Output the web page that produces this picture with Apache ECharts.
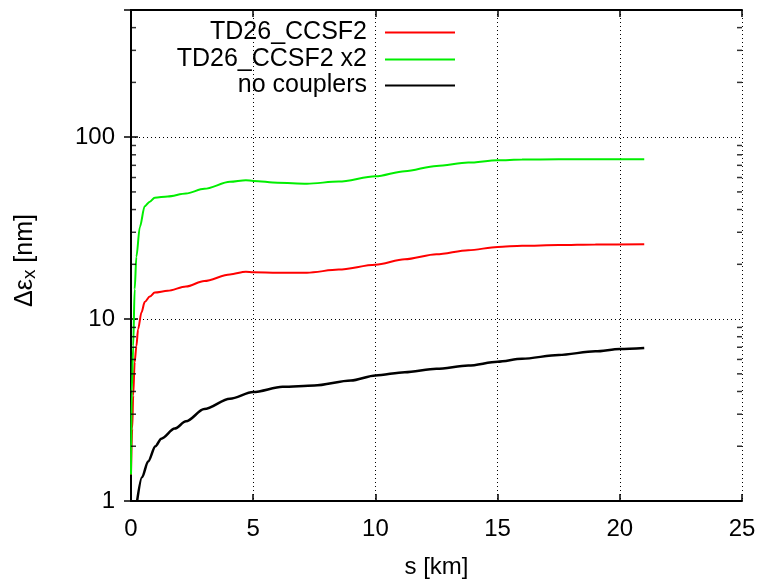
<!DOCTYPE html>
<html>
<head>
<meta charset="utf-8">
<script src="https://cdn.jsdelivr.net/npm/echarts@6/dist/echarts.min.js"></script>
<style>
  html, body { margin: 0; padding: 0; background: #fff; }
  #chart { width: 762px; height: 584px; }
</style>
</head>
<body>
<div id="chart"></div>
<script>
  // s [km] and emittance growth [nm]
  var sRed = [0, 0.05, 0.09, 0.15, 0.22, 0.29, 0.43, 0.56, 0.77, 0.97, 1.5, 2.25, 3, 4.05, 4.7, 5, 6, 7.2, 8.5, 10, 11.2, 12.5, 13.8, 15, 16, 17.5, 19, 21];
  var vRed = [1.4, 2.5, 3.8, 5.8, 7.1, 8.8, 10.9, 12.4, 13.3, 14.0, 14.3, 15.1, 16.2, 17.6, 18.2, 18.1, 18.0, 18.0, 18.7, 19.9, 21.3, 22.7, 23.9, 24.9, 25.3, 25.5, 25.7, 25.8];

  var sGreen = [0, 0.03, 0.09, 0.15, 0.22, 0.36, 0.56, 0.77, 0.97, 1.5, 2.25, 3, 4.05, 4.7, 5, 6, 7.2, 8.5, 10, 11.2, 12.5, 13.8, 15, 16, 17.5, 19, 21];
  var vGreen = [1.4, 4, 7.1, 14.6, 22, 32, 41.7, 44.2, 46.5, 47.2, 49, 52, 56.8, 58, 57.5, 56.2, 55.5, 57, 60.9, 65, 69.5, 72.5, 74.7, 75.3, 75.5, 75.5, 75.5];

  var sBlack = [0.25, 0.45, 0.7, 1.0, 1.24, 1.79, 2.25, 3, 4.05, 5, 6.2, 7.5, 9, 10, 11.2, 12.5, 13.8, 15, 16, 17.5, 19, 20, 21];
  var vBlack = [1.0, 1.35, 1.65, 2.0, 2.2, 2.5, 2.74, 3.2, 3.65, 3.97, 4.24, 4.32, 4.6, 4.9, 5.1, 5.33, 5.55, 5.83, 6.05, 6.35, 6.65, 6.85, 6.94];

  var seriesNames = ['TD26_CCSF2', 'TD26_CCSF2 x2', 'no couplers'];
  var seriesColors = ['#ff0000', '#00ee00', '#000000'];

  // minor ticks of the log axis
  var minorTicks = [2, 3, 4, 5, 6, 7, 8, 9, 20, 30, 40, 50, 60, 70, 80, 90, 200, 300, 400];

  function zip(xs, ys) {
    var out = [];
    for (var i = 0; i < xs.length; i++) out.push([xs[i], ys[i]]);
    return out;
  }

  var font = 'Liberation Sans';
  var chart = echarts.init(document.getElementById('chart'));

  function legendRow(i, top) {
    return {
      data: [seriesNames[i]],
      right: 307,
      top: top,
      padding: 0,
      align: 'right',
      icon: 'rect',
      itemWidth: 70,
      itemHeight: 2,
      selectedMode: false,
      textStyle: { fontFamily: font, fontSize: 25, color: '#000', padding: [0, 13, 0, 0] }
    };
  }

  function lineSeries(i, xs, ys, w) {
    return {
      name: seriesNames[i],
      type: 'line',
      data: zip(xs, ys),
      showSymbol: false,
      smooth: 0.3,
      smoothMonotone: 'x',
      color: seriesColors[i],
      lineStyle: { color: seriesColors[i], width: w },
      silent: true
    };
  }

  function tickSeries(x, off) {
    return {
      type: 'scatter',
      data: minorTicks.map(function (v) { return [x, v]; }),
      symbol: 'rect',
      symbolSize: [5, 1.5],
      symbolOffset: [off, 0],
      itemStyle: { color: '#000' },
      clip: false,
      silent: true,
      z: 5
    };
  }

  var axisLine = { show: true, lineStyle: { color: '#000', width: 2 } };
  var dotted = { show: true, lineStyle: { color: '#000', width: 1, type: [1, 3] } };
  var tick = { inside: true, length: 7, lineStyle: { color: '#000', width: 1.5 } };

  var option = {
    animation: false,
    backgroundColor: '#fff',
    grid: { left: 131, right: 20, top: 10, bottom: 78 },
    legend: [legendRow(0, 20), legendRow(1, 47), legendRow(2, 73)],
    xAxis: [{
      type: 'value', min: 0, max: 25, interval: 5,
      name: 's [km]', nameLocation: 'middle', nameGap: 54,
      nameTextStyle: { fontFamily: font, fontSize: 24, color: '#000' },
      axisLine: axisLine,
      axisTick: tick,
      axisLabel: { fontFamily: font, fontSize: 24, color: '#000', margin: 16 },
      splitLine: dotted
    }, {
      type: 'value', position: 'top', min: 0, max: 25, interval: 5,
      axisLine: axisLine,
      axisTick: tick,
      axisLabel: { show: false },
      splitLine: { show: false }
    }],
    yAxis: [{
      type: 'log', logBase: 10, min: 1, max: 500,
      name: '{a|Δε}{b|x}{a| [nm]}', nameLocation: 'middle', nameGap: 92,
      nameTextStyle: {
        fontFamily: font, color: '#000', padding: [0, 10, 0, 0],
        rich: {
          a: { fontFamily: font, fontSize: 25, color: '#000' },
          b: { fontFamily: font, fontSize: 19, color: '#000', padding: [9, 0, 0, 0] }
        }
      },
      axisLine: axisLine,
      axisTick: tick,
      axisLabel: { fontFamily: font, fontSize: 24, color: '#000', margin: 16, showMaxLabel: false },
      splitLine: dotted
    }, {
      type: 'log', logBase: 10, min: 1, max: 500, position: 'right',
      axisLine: axisLine,
      axisTick: tick,
      axisLabel: { show: false },
      splitLine: { show: false }
    }],
    series: [
      lineSeries(0, sRed, vRed, 2),
      lineSeries(1, sGreen, vGreen, 2),
      lineSeries(2, sBlack, vBlack, 2.5),
      tickSeries(0, 2.5),
      tickSeries(25, -2.5)
    ]
  };

  chart.setOption(option);
</script>
</body>
</html>
